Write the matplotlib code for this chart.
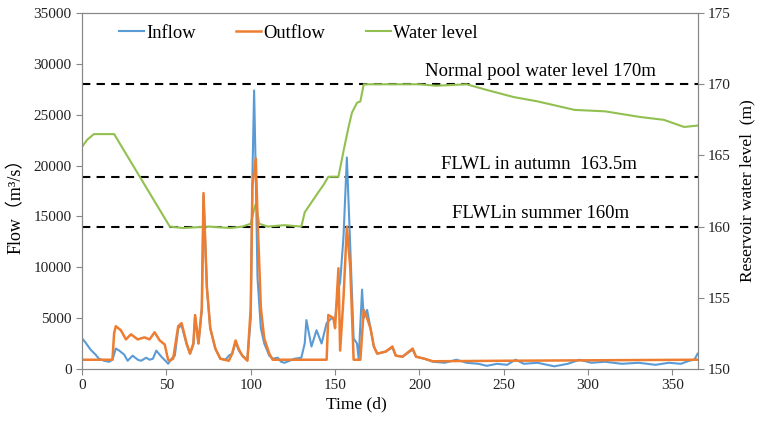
import matplotlib
matplotlib.use("Agg")
import matplotlib.pyplot as plt

plt.rcParams['font.family'] = ['Liberation Serif', 'Noto Sans CJK SC']

# inflow (m3/s)
in_days = [0, 2, 5, 8, 10, 13, 16, 18, 20, 22, 25, 27, 30, 33, 35, 38, 40, 42, 44, 47, 50, 51, 53,
           55, 57, 59, 62, 64, 66, 67, 69, 71, 72, 74, 76, 79, 82, 85, 87, 89, 91, 93, 95, 98,
           100, 101, 102, 103, 104, 106, 108, 111, 113, 116, 118, 120, 123, 126, 130, 132, 133,
           136, 139, 142, 145, 148, 150, 152, 153, 155, 157, 159, 161, 163, 164, 166, 167, 169,
           171, 173, 175, 180, 184, 186, 190, 196, 198, 203, 208, 215, 222, 228, 235, 240, 246,
           252, 257, 262, 270, 280, 288, 295, 302, 310, 320, 330, 340, 348, 355, 360, 363, 365]
inflow = [3000, 2600, 1900, 1400, 1000, 800, 700, 900, 2000, 1800, 1400, 800, 1300, 900, 800, 1100, 900, 1000, 1800, 1200, 700, 500, 1000,
          1300, 4000, 4300, 2400, 1500, 2400, 5200, 2500, 5800, 17000, 8000, 4000, 2000, 1000, 900, 1300, 1500, 2600, 1800, 1300, 900,
          5000, 19000, 27400, 19000, 9000, 4000, 2500, 1300, 1000, 1100, 700, 600, 800, 1000, 1100, 2500, 4800,
          2200, 3800, 2500, 4500, 5000, 4800, 7900, 8500, 13000, 20800, 12000, 3000, 2500, 1000, 7800, 5000, 5800,
          4000, 2200, 1500, 1700, 2100, 1300, 1200, 1900, 1200, 1000, 700, 600, 900, 600, 500, 300, 500,
          400, 900, 500, 600, 250, 500, 900, 600, 700, 500, 600, 400, 600, 500, 800, 900, 1500]

# outflow (m3/s)
out_days = [0, 18, 19, 20, 23, 26, 29, 33, 37, 40, 43, 46, 49, 51, 52, 54, 57, 59, 62, 64, 66, 67, 69, 71, 72,
            74, 76, 79, 82, 87, 89, 91, 93, 95, 98, 100, 101, 103, 104, 106, 108, 111, 113, 145, 146, 149,
            150, 152, 153, 155, 157, 159, 161, 165, 167, 169, 171, 173, 175, 180, 184, 186, 190, 196, 198,
            203, 208, 250, 365]
outflow = [900, 900, 3500, 4200, 3800, 2900, 3400, 2900, 3100, 2900, 3600, 2800, 2400, 900, 800, 1000, 4200, 4500, 2500, 1500, 2500, 5300, 2500, 6000, 17300,
           8000, 4000, 2000, 1000, 800, 1500, 2800, 1900, 1300, 800, 6000, 18000, 20700, 15000, 6000, 3000, 1500, 900, 900, 5300, 5000,
           4000, 9900, 1800, 7000, 14000, 10000, 900, 900, 5800, 5000, 4000, 2200, 1500, 1700, 2200, 1300, 1200, 2000, 1200,
           1000, 750, 800, 900]

# reservoir water level (m)
lv_days = [0, 3, 7, 19, 52, 60, 75, 88, 95, 100, 102, 103, 105, 110, 120, 130, 132, 136, 140, 143, 146, 152,
           155, 158, 160, 163, 165, 167, 180, 200, 210, 228, 240, 256, 270, 292, 310, 331, 345, 357, 365]
level = [165.6, 166.1, 166.5, 166.5, 160.0, 159.9, 160.0, 159.9, 160.0, 160.2, 161.2, 161.6, 160.2, 160.0, 160.1, 160.0, 161.0, 161.7, 162.4, 162.9, 163.5, 163.5,
         165.3, 167.0, 168.0, 168.7, 168.8, 170.0, 170.0, 170.0, 169.9, 170.0, 169.6, 169.1, 168.8, 168.2, 168.1, 167.7, 167.5, 167.0, 167.1]

ref_levels = [170, 163.5, 160]
ref_labels = ['Normal pool water level 170m', 'FLWL in autumn  163.5m', 'FLWLin summer 160m']
ref_label_x = [272, 271, 272]

fig = plt.figure(figsize=(7.6, 4.24), dpi=100)
ax = fig.add_axes([0.108, 0.130, 0.810, 0.839])
ax2 = ax.twinx()

l1, = ax.plot(in_days, inflow, color='#5B9BD5', lw=1.5, label='Inflow')
l2, = ax.plot(out_days, outflow, color='#ED7D31', lw=1.8, label='Outflow')
l3, = ax2.plot(lv_days, level, color='#92C050', lw=1.5, label='Water level')
ax.set_zorder(ax2.get_zorder() + 1)
ax.patch.set_visible(False)

for lv, txt, tx in zip(ref_levels, ref_labels, ref_label_x):
    ax2.axhline(lv, color='black', ls=(0, (4, 3)), lw=1.5, zorder=1)
    ax2.text(tx, lv + 0.3, txt, ha='center', va='bottom', fontsize=13.5)

ax.set_xlim(0, 365)
ax.set_ylim(0, 35000)
ax2.set_ylim(150, 175)
ax.set_xticks(range(0, 351, 50))
ax.set_yticks(range(0, 35001, 5000))
ax2.set_yticks(range(150, 176, 5))

for a in (ax, ax2):
    for s in a.spines.values():
        s.set_color('#888888')
    a.tick_params(colors='#888888', labelcolor='#222222', labelsize=11, length=4)

ax.set_xlabel('Time (d)', fontsize=12.5, labelpad=3, x=0.445)
ax.set_ylabel('Flow（m³/s）', fontsize=13, labelpad=6, y=0.47)
ax2.set_ylabel('Reservoir water level  (m)', fontsize=12.5, labelpad=6)

ax.legend(handles=[l1, l2, l3], loc='upper left', bbox_to_anchor=(0.033, 1.014), ncol=3,
          frameon=False, fontsize=13.3, handlelength=1.35, handletextpad=0.12, columnspacing=2.2)

fig.savefig('out.png')
